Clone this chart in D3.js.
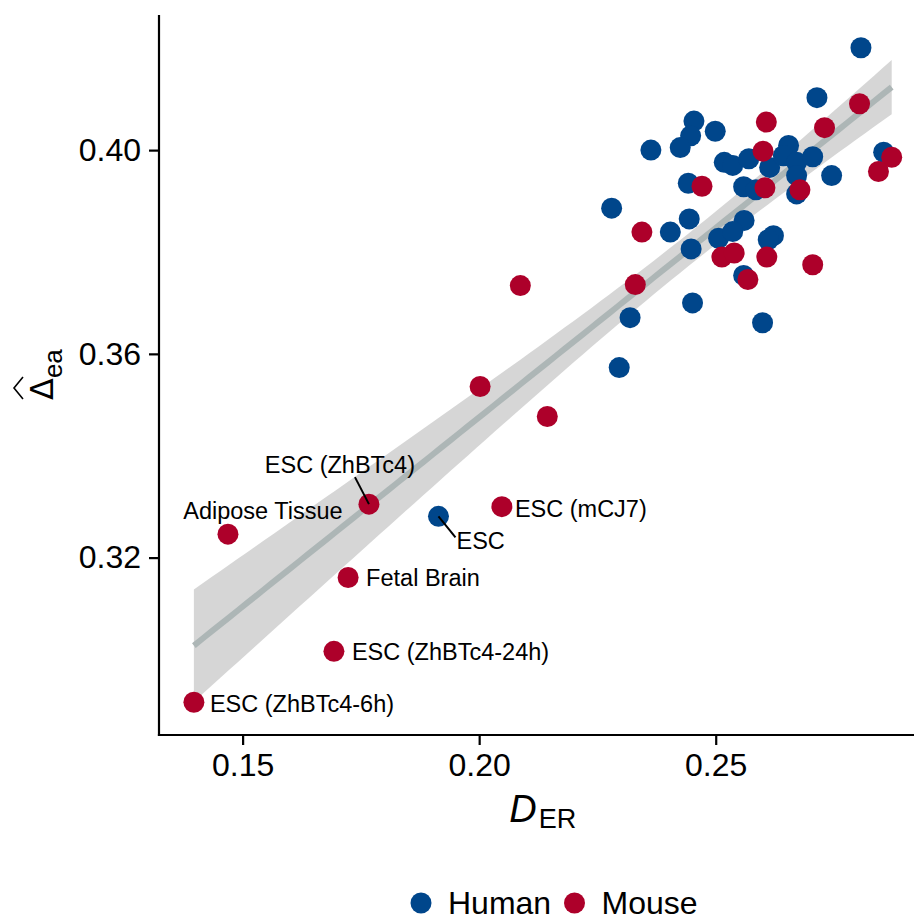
<!DOCTYPE html>
<html>
<head>
<meta charset="utf-8">
<script src="https://cdn.jsdelivr.net/npm/d3@7"></script>
<style>
  body { margin: 0; background: #fff; }
  svg text { font-family: "Liberation Sans", Arial, Helvetica, sans-serif; fill: #000; }
</style>
</head>
<body>
<div id="chart"></div>
<script>
// D_ER (x) and Delta_ea (y)
const humanX = [0.2807, 0.2714, 0.2454, 0.2447, 0.2499, 0.2363, 0.2425, 0.2518, 0.2536, 0.2570,
                0.2614, 0.2654, 0.2643, 0.2671, 0.2705, 0.2671, 0.2745, 0.2442, 0.2559, 0.2585,
                0.2671, 0.2855, 0.2280, 0.2444, 0.2560, 0.2404, 0.2506, 0.2536, 0.2622, 0.2611,
                0.2448, 0.2559, 0.2451, 0.2319, 0.2599, 0.2296, 0.1914];
const humanY = [0.4201, 0.4103, 0.4057, 0.4028, 0.4037, 0.4000, 0.4005, 0.3976, 0.3970, 0.3983,
                0.3966, 0.4009, 0.3989, 0.3976, 0.3987, 0.3950, 0.3950, 0.3935, 0.3928, 0.3922,
                0.3914, 0.3996, 0.3886, 0.3865, 0.3862, 0.3839, 0.3827, 0.3840, 0.3832, 0.3824,
                0.3806, 0.3754, 0.3700, 0.3671, 0.3661, 0.3573, 0.3281];
const humanLabel = [null, null, null, null, null, null, null, null, null, null,
                    null, null, null, null, null, null, null, null, null, null,
                    null, null, null, null, null, null, null, null, null, null,
                    null, null, null, null, null, null, "ESC"];

const mouseX = [0.2804, 0.2607, 0.2730, 0.2600, 0.2872, 0.2844, 0.2471, 0.2604, 0.2678, 0.2344,
                0.2513, 0.2539, 0.2608, 0.2705, 0.2568, 0.2330, 0.2087, 0.2002, 0.2144, 0.2048,
                0.1767, 0.1469, 0.1723, 0.1693, 0.1397];
const mouseY = [0.4091, 0.4055, 0.4044, 0.3998, 0.3986, 0.3958, 0.3929, 0.3926, 0.3922, 0.3839,
                0.3790, 0.3798, 0.3790, 0.3775, 0.3746, 0.3736, 0.3734, 0.3536, 0.3477, 0.3300,
                0.3305, 0.3246, 0.3161, 0.3016, 0.2916];
const mouseLabel = [null, null, null, null, null, null, null, null, null, null,
                    null, null, null, null, null, null, null, null, null, "ESC (mCJ7)",
                    "ESC (ZhBTc4)", "Adipose Tissue", "Fetal Brain", "ESC (ZhBTc4-24h)", "ESC (ZhBTc4-6h)"];

const species = ["Human", "Mouse"];
const xTicks = [0.15, 0.20, 0.25];
const yTicks = [0.32, 0.36, 0.40];

// label placement (pixels from the point), like ggrepel put them
const labelPlace = {
  "ESC": {dx: 18, dy: 24, anchor: "start", seg: true},
  "ESC (mCJ7)": {dx: 13, dy: 2, anchor: "start"},
  "ESC (ZhBTc4)": {dx: -29, dy: -40, anchor: "middle", seg: true},
  "Adipose Tissue": {dx: 35, dy: -24, anchor: "middle"},
  "Fetal Brain": {dx: 18, dy: 0, anchor: "start"},
  "ESC (ZhBTc4-24h)": {dx: 18, dy: 0, anchor: "start"},
  "ESC (ZhBTc4-6h)": {dx: 16, dy: 1, anchor: "start"}
};

const colors = {Human: "#00468B", Mouse: "#AD002A"};

const W = 914, H = 916;
const panel = {left: 159, right: 926.6, top: 15, bottom: 735};

const pts = humanX.map((x, i) => ({x, y: humanY[i], sp: "Human", label: humanLabel[i]}))
  .concat(mouseX.map((x, i) => ({x, y: mouseY[i], sp: "Mouse", label: mouseLabel[i]})));

function expand(ext, f) {
  const d = (ext[1] - ext[0]) * f;
  return [ext[0] - d, ext[1] + d];
}

const x = d3.scaleLinear()
  .domain(expand(d3.extent(pts, d => d.x), 0.05))
  .range([panel.left, panel.right]);
const y = d3.scaleLinear()
  .domain(expand(d3.extent(pts, d => d.y), 0.05))
  .range([panel.bottom, panel.top]);
const color = d3.scaleOrdinal().domain(species).range([colors.Human, colors.Mouse]);

const svg = d3.select("#chart").append("svg")
  .attr("width", W)
  .attr("height", H);

// linear fit with 95% band (lm, as geom_smooth does)
const n = pts.length;
const mx = d3.mean(pts, d => d.x), my = d3.mean(pts, d => d.y);
const sxx = d3.sum(pts, d => (d.x - mx) ** 2);
const sxy = d3.sum(pts, d => (d.x - mx) * (d.y - my));
const b = sxy / sxx, a = my - b * mx;
const s = Math.sqrt(d3.sum(pts, d => (d.y - a - b * d.x) ** 2) / (n - 2));
const tq = 2.0;
const xe = d3.extent(pts, d => d.x);
const fit = d3.range(80).map(i => {
  const xv = xe[0] + (xe[1] - xe[0]) * i / 79;
  const se = s * Math.sqrt(1 / n + (xv - mx) ** 2 / sxx);
  const yv = a + b * xv;
  return {x: xv, y: yv, lo: yv - tq * se, hi: yv + tq * se};
});

svg.append("path")
  .datum(fit)
  .attr("fill", "#999999")
  .attr("fill-opacity", 0.4)
  .attr("d", d3.area().x(d => x(d.x)).y0(d => y(d.lo)).y1(d => y(d.hi)));

svg.append("path")
  .datum(fit)
  .attr("fill", "none")
  .attr("stroke", "#ADB6B6")
  .attr("stroke-width", 6)
  .attr("d", d3.line().x(d => x(d.x)).y(d => y(d.y)));

// points, human first so mouse sits on top
svg.append("g").selectAll("circle")
  .data(pts)
  .join("circle")
  .attr("cx", d => x(d.x))
  .attr("cy", d => y(d.y))
  .attr("r", 10.5)
  .attr("fill", d => color(d.sp));

// labels
const labelled = pts.filter(d => d.label);
const lab = svg.append("g");
labelled.forEach(d => {
  const p = labelPlace[d.label];
  const px = x(d.x), py = y(d.y);
  if (p.seg) {
    let x2, y2;
    if (p.dy < 0) { x2 = px - 14; y2 = py - 27; }
    else { x2 = px + 17; y2 = py + 21; }
    lab.append("line")
      .attr("x1", px).attr("y1", py)
      .attr("x2", x2).attr("y2", y2)
      .attr("stroke", "#000")
      .attr("stroke-width", 2);
  }
  lab.append("text")
    .attr("x", px + p.dx)
    .attr("y", py + p.dy + 8.4)
    .attr("text-anchor", p.anchor)
    .style("font-size", "23.5px")
    .text(d.label);
});

// axes
const xAxis = svg.append("g")
  .attr("transform", "translate(0," + panel.bottom + ")")
  .call(d3.axisBottom(x).tickValues(xTicks).tickFormat(d3.format(".2f")).tickSize(10).tickPadding(8));
const yAxis = svg.append("g")
  .attr("transform", "translate(" + panel.left + ",0)")
  .call(d3.axisLeft(y).tickValues(yTicks).tickFormat(d3.format(".2f")).tickSize(10).tickPadding(8));

[xAxis, yAxis].forEach(g => {
  g.select(".domain").remove();
  g.selectAll(".tick line").attr("stroke", "#000").attr("stroke-width", 2.2);
  g.selectAll(".tick text")
    .style("font-size", "32px")
    .style("font-family", "'Liberation Sans', Arial, sans-serif")
    .attr("fill", "#000");
});

svg.append("line")
  .attr("x1", panel.left).attr("x2", panel.left)
  .attr("y1", panel.top).attr("y2", panel.bottom + 1.1)
  .attr("stroke", "#000").attr("stroke-width", 2.2);
svg.append("line")
  .attr("x1", panel.left - 1.1).attr("x2", panel.right)
  .attr("y1", panel.bottom).attr("y2", panel.bottom)
  .attr("stroke", "#000").attr("stroke-width", 2.2);

// x title: D_ER
const xt = svg.append("text")
  .attr("x", (panel.left + panel.right) / 2)
  .attr("y", 822)
  .attr("text-anchor", "middle");
xt.append("tspan").style("font-size", "38px").style("font-style", "italic").text("D");
xt.append("tspan").style("font-size", "27px").attr("dx", 2).attr("dy", 6).text("ER");

// y title: hat Delta_ea, rotated
const yt = svg.append("g").attr("transform", "translate(50,387) rotate(-90)");
const ytt = yt.append("text").attr("x", -13).attr("y", 3);
ytt.append("tspan")
  .style("font-size", "32px")
  .style("font-family", "'DejaVu Sans', sans-serif")
  .style("font-style", "normal")
  .text("\u0394");
ytt.append("tspan").style("font-size", "26px").attr("dy", 9).text("ea");
yt.append("path")
  .attr("d", "M-12,-27L-1,-36L10,-27")
  .attr("fill", "none")
  .attr("stroke", "#000")
  .attr("stroke-width", 1.6);

// legend
const legend = svg.append("g");
const legX = {Human: 421, Mouse: 574.5};
species.forEach(sp => {
  legend.append("circle")
    .attr("cx", legX[sp]).attr("cy", 903)
    .attr("r", 10.5)
    .attr("fill", color(sp));
  legend.append("text")
    .attr("x", legX[sp] + 27)
    .attr("y", 914)
    .style("font-size", "32px")
    .text(sp);
});
</script>
</body>
</html>
